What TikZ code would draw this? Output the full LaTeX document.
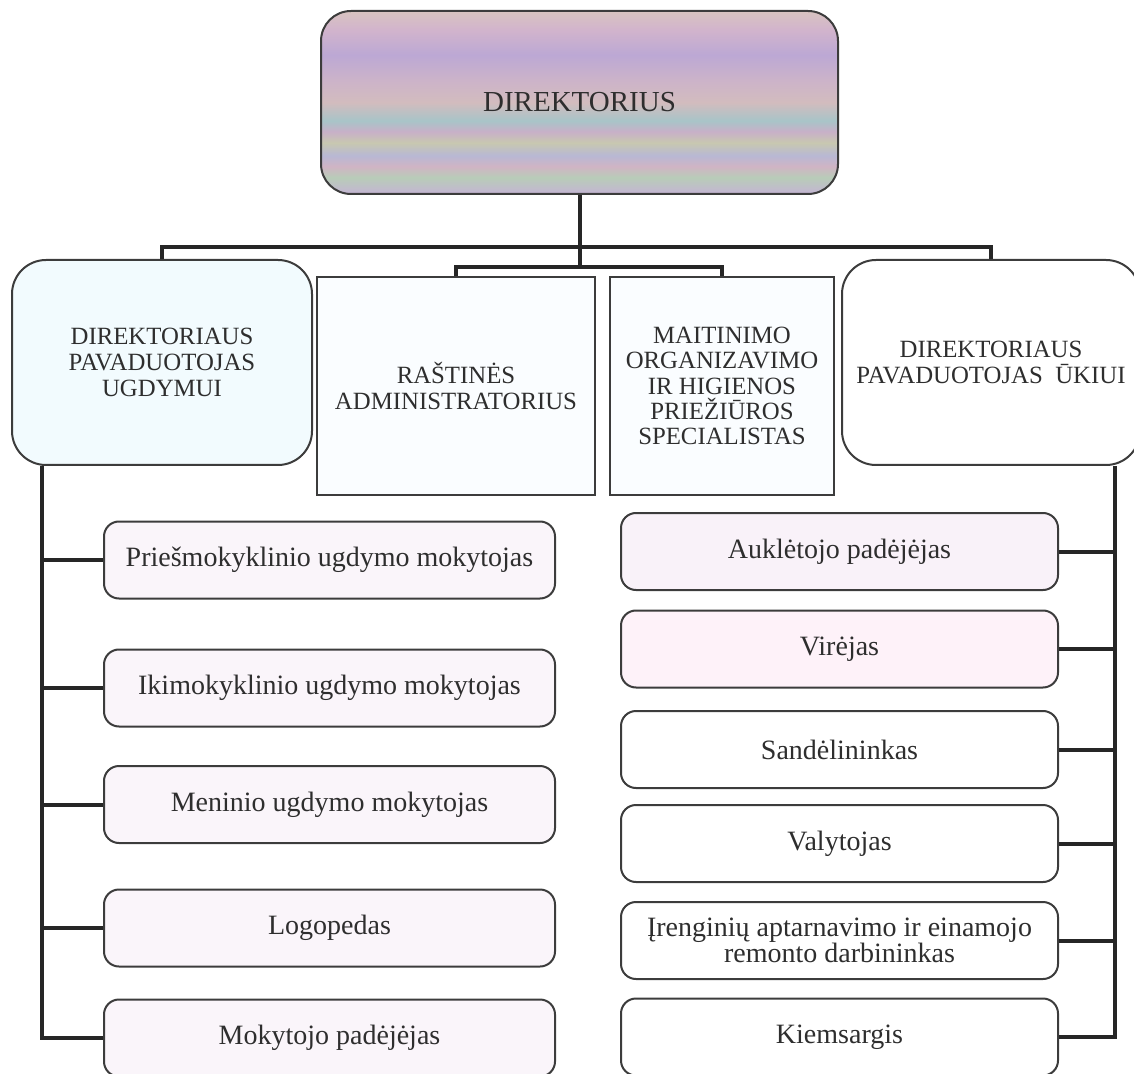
\documentclass[tikz,border=0pt]{standalone}
\usepackage{fontspec}
\setmainfont{Liberation Serif}
\definecolor{linecol}{HTML}{262626}
\definecolor{boxcol}{HTML}{3C3C3C}
\definecolor{textcol}{HTML}{2E2E2E}
\definecolor{st1}{HTML}{C4B4D4}
\definecolor{st2}{HTML}{B8CCB8}
\definecolor{st3}{HTML}{D0B4C4}
\definecolor{st4}{HTML}{B8B8D4}
\definecolor{st5}{HTML}{C8C8B0}
\definecolor{st6}{HTML}{C8B0C8}
\definecolor{st7}{HTML}{A8C4C8}
\definecolor{st8}{HTML}{D2BCBE}
\definecolor{st9}{HTML}{CDB4C8}
\definecolor{st10}{HTML}{BCA8D4}
\definecolor{st11}{HTML}{D2B4CC}
\definecolor{st12}{HTML}{D8C4C0}
% only 25bp..75bp of a shading shows in a node
\pgfdeclareverticalshading{dirstripes}{100bp}{color(0bp)=(st1); color(25bp)=(st1);
  color(29.5bp)=(st2); color(32.5bp)=(st3); color(35.5bp)=(st4); color(39bp)=(st5);
  color(42bp)=(st6); color(45bp)=(st7); color(50bp)=(st8); color(55.5bp)=(st9);
  color(63bp)=(st10); color(70bp)=(st11); color(75bp)=(st12); color(100bp)=(st12)}

\begin{document}
\begin{tikzpicture}[x=0.5pt, y=-0.5pt,
    conn/.style={draw=linecol, line width=2pt},
    chief/.style={draw=boxcol, line width=1pt, rounded corners=15pt, shading=dirstripes,
      minimum width=258.5pt, minimum height=91.5pt, text=textcol,
      font=\fontsize{14.5pt}{17pt}\selectfont},
    deputy/.style={draw=boxcol, line width=1pt, rounded corners=17pt, align=center,
      minimum height=102.5pt, text=textcol, font=\fontsize{12.4pt}{12.8pt}\selectfont},
    office/.style={draw=boxcol, line width=0.8pt, fill=white!98!cyan, align=center,
      minimum height=109pt, text=textcol, font=\fontsize{12.4pt}{12.7pt}\selectfont},
    job/.style={draw=boxcol, line width=1pt, rounded corners=7.5pt, align=center,
      minimum height=38.5pt, text=textcol, font=\fontsize{14pt}{13.3pt}\selectfont},
    leftjob/.style={job, minimum width=225.5pt, fill=white!96!violet},
    rightjob/.style={job, minimum width=218.5pt, fill=white}]

  \useasboundingbox (0,0) rectangle (1134,1074);

  \node[chief] (1) at (579.5,102.5) {DIREKTORIUS};

  \node[deputy, minimum width=150pt, fill=white!95!cyan] (2) at (162,362.5) {DIREKTORIAUS\\PAVADUOTOJAS\\UGDYMUI};
  \node[office, minimum width=139pt] (3) at (456,386) {RAŠTINĖS\\ADMINISTRATORIUS};
  \node[office, minimum width=111.75pt] (4) at (722,386) {MAITINIMO\\ORGANIZAVIMO\\IR HIGIENOS\\PRIEŽIŪROS\\SPECIALISTAS};
  \node[deputy, minimum width=149pt, fill=white] (5) at (991,362.5) {DIREKTORIAUS\\PAVADUOTOJAS\ \ ŪKIUI};

  \node[leftjob] (6) at (329.5,560) {Priešmokyklinio ugdymo mokytojas};
  \node[leftjob] (7) at (329.5,688) {Ikimokyklinio ugdymo mokytojas};
  \node[leftjob] (8) at (329.5,804.5) {Meninio ugdymo mokytojas};
  \node[leftjob] (9) at (329.5,928) {Logopedas};
  \node[leftjob] (10) at (329.5,1038) {Mokytojo padėjėjas};

  \node[rightjob, fill=white!95!violet] (11) at (839.5,551.5) {Auklėtojo padėjėjas};
  \node[rightjob, fill=white!95!magenta] (12) at (839.5,649) {Virėjas};
  \node[rightjob] (13) at (839.5,749.5) {Sandėlininkas};
  \node[rightjob] (14) at (839.5,843.5) {Valytojas};
  \node[rightjob] (15) at (839.5,940.5) {Įrenginių aptarnavimo ir einamojo\\remonto darbininkas};
  \node[rightjob] (16) at (839.5,1037) {Kiemsargis};

  % buses and side rails
  \coordinate (b1) at (579.5,247);
  \coordinate (b2) at (579.5,267);
  \coordinate (l) at (42,0);
  \coordinate (r) at (1115,0);

  \draw[conn] (1) -- (b2);
  \draw[conn] (2.north) |- (b1) -| (5.north);
  \draw[conn] (3.north) |- (b2) -| (4.north);
  \draw[conn] (2.south -| l) |- (10.west);
  \draw[conn] (5.south -| r) |- (16.east);

  \path[conn]
  (l |- 6.west) edge (6.west)
  (l |- 7.west) edge (7.west)
  (l |- 8.west) edge (8.west)
  (l |- 9.west) edge (9.west)
  (r |- 11.east) edge (11.east)
  (r |- 12.east) edge (12.east)
  (r |- 13.east) edge (13.east)
  (r |- 14.east) edge (14.east)
  (r |- 15.east) edge (15.east);

\end{tikzpicture}
\end{document}
